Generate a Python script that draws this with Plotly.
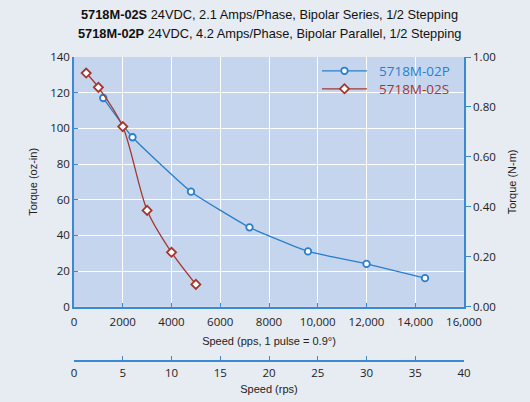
import plotly.graph_objects as go

# ---- data ----
p_speed_pps = [1200, 2400, 4800, 7200, 9600, 12000, 14400]
p_torque_ozin = [117, 95, 64.5, 44.5, 31, 24, 16]

s_speed_pps = [500, 1000, 2000, 3000, 4000, 5000]
s_torque_ozin = [131, 123, 101, 54, 30.5, 12.5]

x_tickvals = [0, 2000, 4000, 6000, 8000, 10000, 12000, 14000, 16000]
x_ticktext = ["0", "2000", "4000", "6000", "8000", "10,000", "12,000", "14,000", "16,000"]
y_tickvals = [0, 20, 40, 60, 80, 100, 120, 140]
rps_ticks = [0, 5, 10, 15, 20, 25, 30, 35, 40]
nm_ticks = [0, 0.2, 0.4, 0.6, 0.8, 1.0]
pulses_per_rev = 400
title_lines = [
    "<b>5718M-02S</b> 24VDC, 2.1 Amps/Phase, Bipolar Series, 1/2 Stepping",
    "<b>5718M-02P</b> 24VDC, 4.2 Amps/Phase, Bipolar Parallel, 1/2 Stepping",
]

BLUE = "#2a7fca"
RED = "#a3372f"
AXIS = "#3a8ad2"
TICKFONT = dict(family="Open Sans, sans-serif", size=11.5, color="#222")
LABELFONT = dict(family="Liberation Sans, Arial", size=11, color="#222")

W, H = 530, 402
mt, mb = 57, 35
ph = H - mt - mb
plot_bottom = 306.7


def py(pix):
    return (H - mb - pix) / ph


fig = go.Figure()
fig.add_trace(go.Scatter(
    x=p_speed_pps, y=p_torque_ozin, mode="lines+markers",
    name="&nbsp;&nbsp;<span style='color:%s'>5718M-02P</span>" % BLUE, legend="legend",
    line=dict(color=BLUE, width=1.3, shape="spline", smoothing=0.4),
    marker=dict(symbol="circle", size=6.5, color="white", line=dict(color=BLUE, width=1.8)),
))
fig.add_trace(go.Scatter(
    x=s_speed_pps, y=s_torque_ozin, mode="lines+markers",
    name="&nbsp;&nbsp;<span style='color:%s'>5718M-02S</span>" % RED, legend="legend2",
    line=dict(color=RED, width=1.3, shape="spline", smoothing=0.8),
    marker=dict(symbol="diamond", size=7, color="white", line=dict(color=RED, width=1.8)),
))
# invisible helper traces so the secondary axes render
fig.add_trace(go.Scatter(
    x=[v / pulses_per_rev for v in p_speed_pps], y=p_torque_ozin, xaxis="x2", yaxis="y",
    mode="markers", marker=dict(opacity=0), showlegend=False, hoverinfo="skip"))
fig.add_trace(go.Scatter(
    x=p_speed_pps, y=[v * 0.00706 for v in p_torque_ozin], xaxis="x", yaxis="y2",
    mode="markers", marker=dict(opacity=0), showlegend=False, hoverinfo="skip"))

legend_common = dict(
    x=0.623, xanchor="left", yanchor="middle",
    bgcolor="rgba(0,0,0,0)", borderwidth=0,
    font=dict(family="Open Sans, sans-serif", size=13.5),
    itemwidth=45,
)

fig.update_layout(
    width=W, height=H,
    margin=dict(l=74, r=66, t=mt, b=mb, autoexpand=False),
    paper_bgcolor="#e7ebf2",
    plot_bgcolor="#c6d5ee",
    showlegend=True,
    legend=dict(y=py(71), **legend_common),
    legend2=dict(y=py(89), **legend_common),
    annotations=[
        dict(text=title_lines[0], x=0.5, xref="paper", y=py(15), yref="paper",
             xanchor="center", yanchor="middle", showarrow=False,
             font=dict(family="Liberation Sans, Arial", size=12.8, color="#111")),
        dict(text=title_lines[1], x=0.5, xref="paper", y=py(34), yref="paper",
             xanchor="center", yanchor="middle", showarrow=False,
             font=dict(family="Liberation Sans, Arial", size=12.8, color="#111")),
    ],
    xaxis=dict(
        range=[0, 16000], tickvals=x_tickvals, ticktext=x_ticktext,
        showgrid=True, gridcolor="white", gridwidth=1.2,
        showline=True, linecolor=AXIS, linewidth=1.5,
        ticks="inside", ticklen=4, tickcolor=AXIS, tickwidth=1.2,
        tickfont=TICKFONT, zeroline=False, ticklabelstandoff=4, automargin=False,
        title=dict(text="Speed (pps, 1 pulse = 0.9°)", font=LABELFONT, standoff=9),
        anchor="y",
    ),
    xaxis2=dict(
        range=[0, 40], tickvals=rps_ticks, overlaying="x", side="bottom",
        anchor="free", position=py(360.7),
        showgrid=False, zeroline=False, automargin=False,
        showline=True, linecolor=AXIS, linewidth=1.5,
        ticks="inside", ticklen=4, tickcolor=AXIS, tickwidth=1.2,
        tickfont=TICKFONT, ticklabelstandoff=2,
        title=dict(text="Speed (rps)", font=LABELFONT, standoff=5),
    ),
    yaxis=dict(
        domain=[py(plot_bottom), 1], range=[0, 140], tickvals=y_tickvals,
        showgrid=True, gridcolor="white", gridwidth=1.2,
        showline=True, linecolor=AXIS, linewidth=1.5,
        ticks="inside", ticklen=4, tickcolor=AXIS, tickwidth=1.2,
        tickfont=TICKFONT, zeroline=False, automargin=False,
        title=dict(text="Torque (oz-in)", font=LABELFONT, standoff=10),
    ),
    yaxis2=dict(
        range=[0, 1], tickvals=nm_ticks, tickformat=".2f", overlaying="y", side="right",
        anchor="x", showgrid=False, zeroline=False, automargin=False,
        showline=True, linecolor=AXIS, linewidth=1.5,
        ticks="outside", ticklen=5, tickcolor=AXIS, tickwidth=1.2,
        tickfont=TICKFONT,
        title=dict(text="Torque (N-m)", font=LABELFONT, standoff=14),
    ),
)

fig.write_html(
    "out.html",
    config={"displayModeBar": False},
    post_script="document.body.style.margin='0';document.body.style.overflow='hidden';",
)
